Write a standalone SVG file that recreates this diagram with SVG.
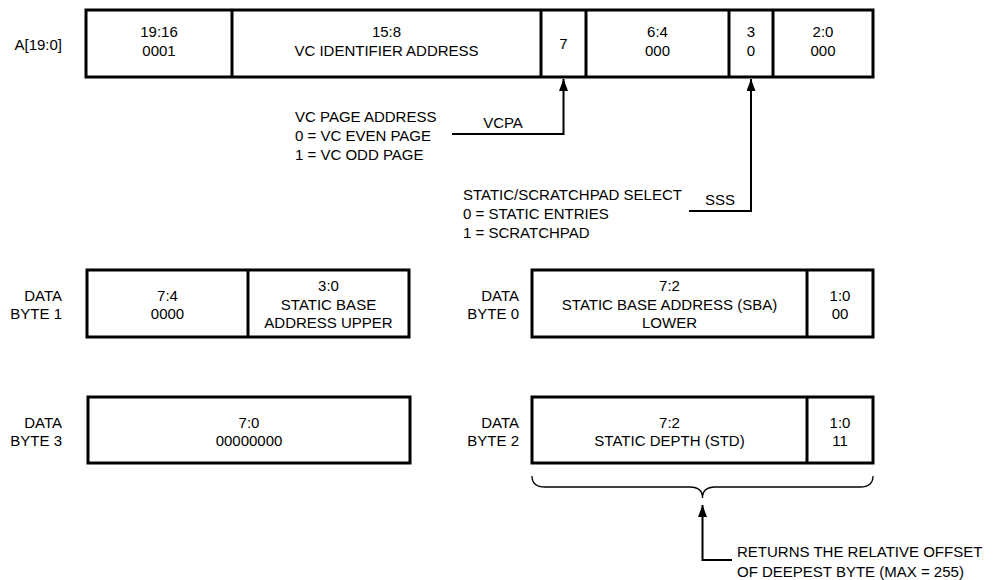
<svg xmlns="http://www.w3.org/2000/svg" width="1008" height="580" viewBox="0 0 1008 580">
<style>
text{font-family:"Liberation Sans",Arial,sans-serif;font-size:15px;fill:#000}
.c{text-anchor:middle}
.e{text-anchor:end}
.box{fill:#fff;stroke:#000;stroke-width:3}
.div{stroke:#000;stroke-width:3}
.ln{fill:none;stroke:#000;stroke-width:2}
.br{fill:none;stroke:#000;stroke-width:1.3}
</style>
<defs>
<marker id="ah" viewBox="0 0 12 9" refX="12" refY="4.5" markerWidth="12" markerHeight="9" markerUnits="userSpaceOnUse" orient="auto">
<path d="M0,0 L12,4.5 L0,9 Z" fill="#000"/>
</marker>
</defs>
<g id="addr">
<text class="e" x="62" y="50">A[19:0]</text>
<rect class="box" x="86" y="10" width="787" height="67"/>
<line class="div" x1="232" y1="10" x2="232" y2="77"/>
<line class="div" x1="541" y1="10" x2="541" y2="77"/>
<line class="div" x1="586" y1="10" x2="586" y2="77"/>
<line class="div" x1="729" y1="10" x2="729" y2="77"/>
<line class="div" x1="773" y1="10" x2="773" y2="77"/>
<text class="c" x="159" y="37">19:16</text>
<text class="c" x="159" y="56">0001</text>
<text class="c" x="386.5" y="37">15:8</text>
<text class="c" x="386.5" y="56">VC IDENTIFIER ADDRESS</text>
<text class="c" x="563.5" y="49">7</text>
<text class="c" x="657.5" y="37">6:4</text>
<text class="c" x="657.5" y="56">000</text>
<text class="c" x="751" y="37">3</text>
<text class="c" x="751" y="56">0</text>
<text class="c" x="823" y="37">2:0</text>
<text class="c" x="823" y="56">000</text>
</g>
<g id="vcpa-label">
<text x="295" y="122">VC PAGE ADDRESS</text>
<text x="295" y="141">0 = VC EVEN PAGE</text>
<text x="295" y="160">1 = VC ODD PAGE</text>
<text class="c" x="503" y="128">VCPA</text>
</g>
<g id="sss-label">
<text x="463" y="200">STATIC/SCRATCHPAD SELECT</text>
<text x="463" y="219">0 = STATIC ENTRIES</text>
<text x="463" y="238">1 = SCRATCHPAD</text>
<text class="c" x="720" y="205">SSS</text>
</g>
<g id="byte1">
<text class="e" x="62" y="301">DATA</text>
<text class="e" x="62" y="319">BYTE 1</text>
<rect class="box" x="87" y="270" width="322" height="67"/>
<line class="div" x1="248" y1="270" x2="248" y2="337"/>
<text class="c" x="167.5" y="301">7:4</text>
<text class="c" x="167.5" y="319">0000</text>
<text class="c" x="328.5" y="291">3:0</text>
<text class="c" x="328.5" y="310">STATIC BASE</text>
<text class="c" x="328.5" y="328">ADDRESS UPPER</text>
</g>
<g id="byte0">
<text class="e" x="519" y="301">DATA</text>
<text class="e" x="519" y="319">BYTE 0</text>
<rect class="box" x="532" y="270" width="341" height="67"/>
<line class="div" x1="807" y1="270" x2="807" y2="337"/>
<text class="c" x="669.5" y="291">7:2</text>
<text class="c" x="669.5" y="310">STATIC BASE ADDRESS (SBA)</text>
<text class="c" x="669.5" y="328">LOWER</text>
<text class="c" x="840" y="301">1:0</text>
<text class="c" x="840" y="319">00</text>
</g>
<g id="byte3">
<text class="e" x="62" y="428">DATA</text>
<text class="e" x="62" y="446">BYTE 3</text>
<rect class="box" x="88" y="397" width="322" height="66"/>
<text class="c" x="249" y="428">7:0</text>
<text class="c" x="249" y="446">00000000</text>
</g>
<g id="byte2">
<text class="e" x="519" y="428">DATA</text>
<text class="e" x="519" y="446">BYTE 2</text>
<rect class="box" x="532" y="397" width="341" height="66"/>
<line class="div" x1="807" y1="397" x2="807" y2="463"/>
<text class="c" x="669.5" y="428">7:2</text>
<text class="c" x="669.5" y="446">STATIC DEPTH (STD)</text>
<text class="c" x="840" y="428">1:0</text>
<text class="c" x="840" y="446">11</text>
</g>
<g id="note">
<text x="737" y="557">RETURNS THE RELATIVE OFFSET</text>
<text x="737" y="577">OF DEEPEST BYTE (MAX = 255)</text>
</g>
<g id="connectors">
<polyline class="ln" points="452,134 563.5,134 563.5,79" marker-end="url(#ah)"/>
<polyline class="ln" points="689,211 751,211 751,79" marker-end="url(#ah)"/>
<path class="br" d="M532,476 Q532,487 545,487 L690,487 Q702.5,487 702.5,498 Q702.5,487 715,487 L860,487 Q873,487 873,476"/>
<polyline class="ln" points="732,560 702.5,560 702.5,505" marker-end="url(#ah)"/>
</g>
</svg>
